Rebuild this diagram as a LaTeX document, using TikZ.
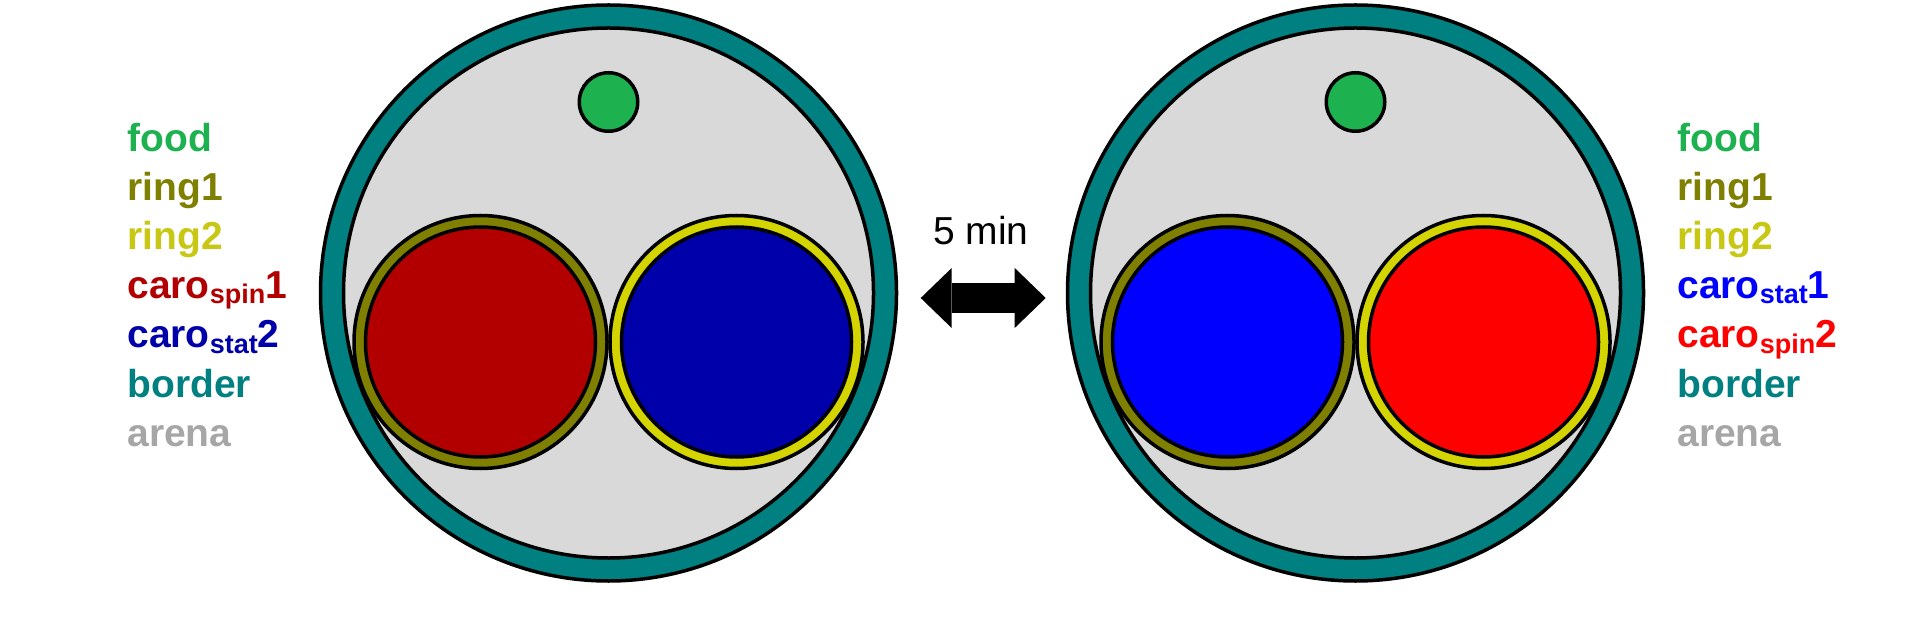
\documentclass[tikz,border=0pt]{standalone}
\usepackage{fontspec}
\setmainfont{Liberation Sans}
\usetikzlibrary{positioning}
\usetikzlibrary{arrows.meta}

\definecolor{foodgreen}{RGB}{29,177,80}
\definecolor{ringolive}{RGB}{128,128,0}
\definecolor{ringyellow}{RGB}{212,212,0}
\definecolor{ringtext}{RGB}{200,200,20}
\definecolor{spindark}{RGB}{178,0,0}
\definecolor{statdark}{RGB}{0,0,170}
\definecolor{statblue}{RGB}{0,0,255}
\definecolor{spinred}{RGB}{255,0,0}
\definecolor{borderteal}{RGB}{0,128,128}
\definecolor{arenagray}{RGB}{217,217,217}
\definecolor{labelgray}{RGB}{166,166,166}

\newcommand{\lowidx}[1]{\raisebox{-2.5pt}{\fontsize{13.5}{14}\selectfont #1}}

\tikzset{
	disc/.style={circle,draw=black,line width=1.75pt,inner sep=0pt},
	legend/.style={font=\bfseries\fontsize{19.5}{23}\selectfont,inner sep=0pt,anchor=base west},
	swaparrow/.style={line width=15pt,{Triangle[length=15.5pt,width=30pt,line width=0pt]}-{Triangle[length=15.5pt,width=30pt,line width=0pt]}}
}

\begin{document}
\begin{tikzpicture}[on grid,node distance=24.5pt]
		\useasboundingbox (0,0) rectangle (960pt,-320.5pt);
		% left arena
		\node[disc,fill=borderteal,minimum size=288pt] (borderL) at (304.25pt,-146.5pt) {};
		\node[disc,fill=arenagray,minimum size=265pt] (arenaL) at (borderL) {};
		\node[disc,fill=foodgreen,minimum size=29.25pt] (foodL) [above=95.5pt of arenaL] {};
		\node[disc,fill=ringolive,minimum size=126.5pt] (ringoneL) [below left=24.5pt and 64pt of arenaL] {};
		\node[disc,fill=spindark,minimum size=115pt] (caroneL) at (ringoneL) {};
		\node[disc,fill=ringyellow,minimum size=126.5pt] (ringtwoL) [below right=24.5pt and 64pt of arenaL] {};
		\node[disc,fill=statdark,minimum size=115pt] (carotwoL) at (ringtwoL) {};
		
		% right arena
		\node[disc,fill=borderteal,minimum size=288pt] (borderR) [right=373.5pt of borderL] {};
		\node[disc,fill=arenagray,minimum size=265pt] (arenaR) at (borderR) {};
		\node[disc,fill=foodgreen,minimum size=29.25pt] (foodR) [above=95.5pt of arenaR] {};
		\node[disc,fill=ringolive,minimum size=126.5pt] (ringoneR) [below left=24.5pt and 64pt of arenaR] {};
		\node[disc,fill=statblue,minimum size=115pt] (caroneR) at (ringoneR) {};
		\node[disc,fill=ringyellow,minimum size=126.5pt] (ringtwoR) [below right=24.5pt and 64pt of arenaR] {};
		\node[disc,fill=spinred,minimum size=115pt] (carotwoR) at (ringtwoR) {};
		
		% swap
		\coordinate (swapL) at (460.35pt,-149pt);
		\coordinate (swapR) at (522.85pt,-149pt);
		\coordinate (swapM) at (490.5pt,-149pt);
		\draw[swaparrow] (swapL) -- (swapR);
		\node[font=\fontsize{19.5}{23}\selectfont,inner sep=0pt] (delay) [above=26.5pt of swapM,anchor=base] {5 min};
		
		% legend left
		\node[legend,text=foodgreen] (foodLabL) at (63.5pt,-76pt) {food};
		\node[legend,text=ringolive] (ringoneLabL) [below=of foodLabL.base west,anchor=base west] {ring1};
		\node[legend,text=ringtext] (ringtwoLabL) [below=of ringoneLabL.base west,anchor=base west] {ring2};
		\node[legend,text=spindark] (caroneLabL) [below=of ringtwoLabL.base west,anchor=base west] {caro\lowidx{spin}1};
		\node[legend,text=statdark] (carotwoLabL) [below=of caroneLabL.base west,anchor=base west] {caro\lowidx{stat}2};
		\node[legend,text=borderteal] (borderLabL) [below=of carotwoLabL.base west,anchor=base west] {border};
		\node[legend,text=labelgray] (arenaLabL) [below=of borderLabL.base west,anchor=base west] {arena};
		
		% legend right
		\node[legend,text=foodgreen] (foodLabR) at (838.5pt,-76pt) {food};
		\node[legend,text=ringolive] (ringoneLabR) [below=of foodLabR.base west,anchor=base west] {ring1};
		\node[legend,text=ringtext] (ringtwoLabR) [below=of ringoneLabR.base west,anchor=base west] {ring2};
		\node[legend,text=statblue] (caroneLabR) [below=of ringtwoLabR.base west,anchor=base west] {caro\lowidx{stat}1};
		\node[legend,text=spinred] (carotwoLabR) [below=of caroneLabR.base west,anchor=base west] {caro\lowidx{spin}2};
		\node[legend,text=borderteal] (borderLabR) [below=of carotwoLabR.base west,anchor=base west] {border};
		\node[legend,text=labelgray] (arenaLabR) [below=of borderLabR.base west,anchor=base west] {arena};
\end{tikzpicture}
\end{document}
